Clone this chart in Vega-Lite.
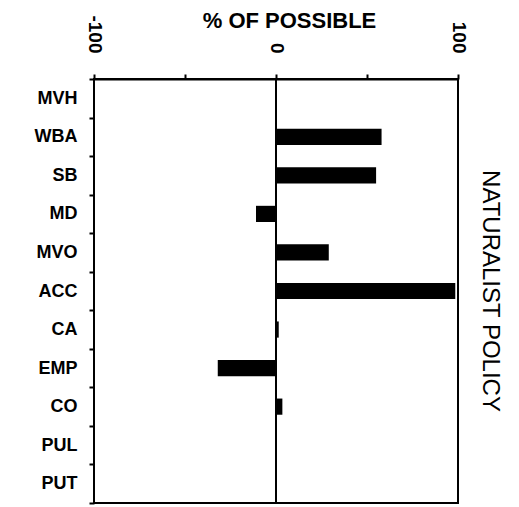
{
  "$schema": "https://vega.github.io/schema/vega-lite/v6.json",
  "width": 364,
  "height": 424,
  "autosize": {"type": "none"},
  "padding": {"left": 94, "top": 79, "right": 61, "bottom": 4},
  "background": "white",
  "config": {
    "view": {"stroke": "black", "strokeWidth": 2},
    "font": "Liberation Sans"
  },
  "title": {
    "text": "NATURALIST POLICY",
    "orient": "right",
    "anchor": "middle",
    "angle": 90,
    "fontSize": 24,
    "fontWeight": "normal",
    "font": "Liberation Sans",
    "color": "black",
    "offset": 11
  },
  "data": {
    "values": [
      {"category": "MVH", "value": 0},
      {"category": "WBA", "value": 58},
      {"category": "SB", "value": 55},
      {"category": "MD", "value": -11},
      {"category": "MVO", "value": 29},
      {"category": "ACC", "value": 98.5},
      {"category": "CA", "value": 1.5},
      {"category": "EMP", "value": -32},
      {"category": "CO", "value": 3.5},
      {"category": "PUL", "value": 0},
      {"category": "PUT", "value": 0}
    ]
  },
  "layer": [
    {
      "mark": {"type": "bar", "color": "black", "height": {"band": 0.42}},
      "encoding": {
        "y": {
          "field": "category",
          "type": "nominal",
          "sort": null,
          "scale": {"paddingInner": 0, "paddingOuter": 0},
          "axis": {
            "title": null,
            "orient": "left",
            "domain": false,
            "tickBand": "extent",
            "tickSize": 5,
            "tickColor": "black",
            "tickWidth": 2,
            "labelFontSize": 18,
            "labelFontWeight": "bold",
            "labelColor": "black",
            "labelPadding": 12
          }
        },
        "x": {
          "field": "value",
          "type": "quantitative",
          "scale": {"domain": [-100, 100], "nice": false},
          "axis": {
            "orient": "top",
            "title": "% OF POSSIBLE",
            "titleFontSize": 22,
            "titleFontWeight": "bold",
            "titleColor": "black",
            "titleX": 195,
            "titleY": -52,
            "titleAlign": "center",
            "titleBaseline": "alphabetic",
            "values": [-100, -50, 0, 50, 100],
            "labelExpr": "datum.value % 100 == 0 ? '' + datum.value : ''",
            "labelAngle": 90,
            "labelAlign": "right",
            "labelBaseline": "middle",
            "labelPadding": 21,
            "labelFontSize": 19,
            "labelFontWeight": "bold",
            "labelColor": "black",
            "grid": false,
            "domainColor": "black",
            "domainWidth": 2,
            "tickColor": "black",
            "tickWidth": 2,
            "tickSize": 5
          }
        }
      }
    },
    {
      "mark": {"type": "rule", "color": "black", "strokeWidth": 2},
      "encoding": {"x": {"datum": 0}}
    }
  ]
}
